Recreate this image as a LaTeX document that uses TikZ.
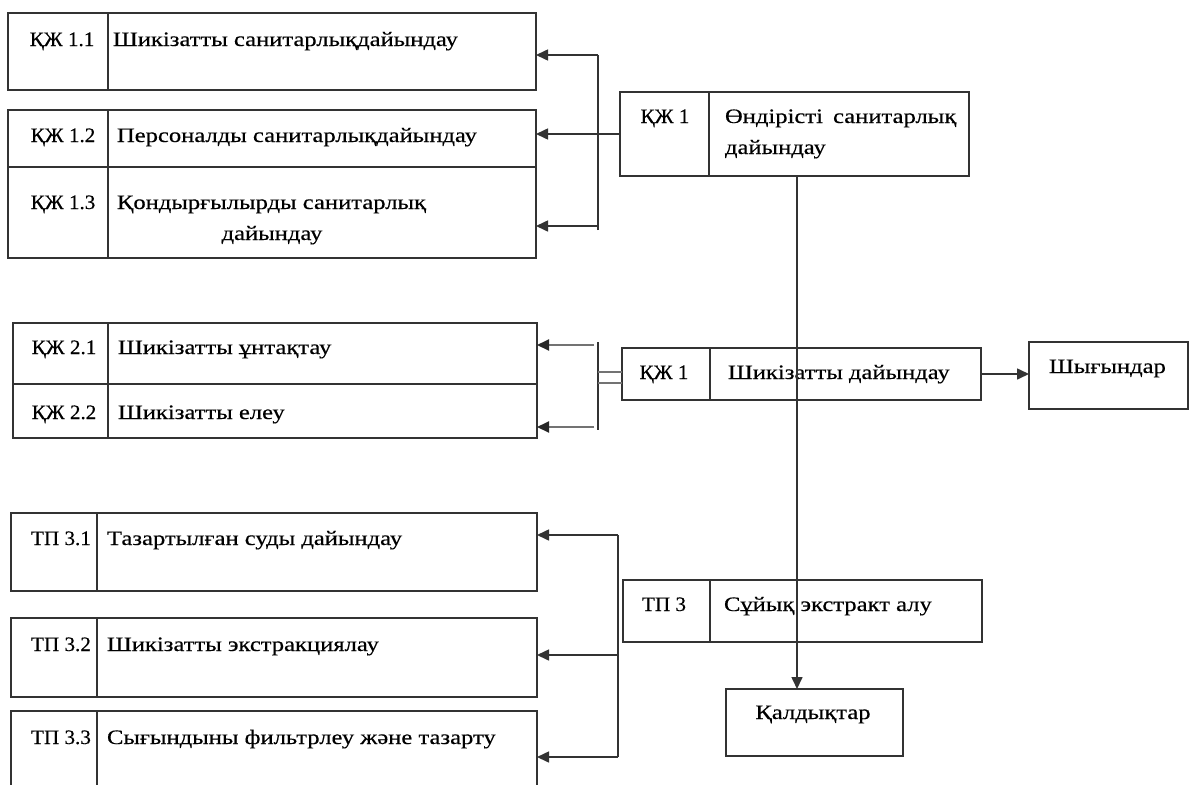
\documentclass[tikz,border=0pt]{standalone}
\usepackage{fontspec}
\setmainfont{Liberation Serif}[FakeStretch=1.2,FakeBold=0.4]
\newfontfamily\idfont{Liberation Serif}[FakeStretch=1.03,FakeBold=0.4]
\usetikzlibrary{arrows.meta,calc}
\begin{document}
\begin{tikzpicture}[x=1pt,y=-1pt,
  every node/.style={inner sep=0pt,outer sep=0pt},
  box/.style={draw=black!80,line width=1.6pt,rectangle},
  ln/.style={draw=black!80,line width=1.6pt},
  gln/.style={draw=black!55,line width=2pt},
  arr/.style={ln,-{Triangle[length=12pt,width=11pt]}},
  garr/.style={gln,-{Triangle[length=12pt,width=11pt,fill=black!85,color=black!85]}},
  txt/.style={anchor=base west,font=\fontsize{20.5}{24}\selectfont},
  idt/.style={anchor=base,font=\idfont\fontsize{20.5}{24}\selectfont},
  ctt/.style={anchor=base,font=\fontsize{20.5}{24}\selectfont}]
\useasboundingbox (0,0) rectangle (1190,784);
\fill[white] (0,0) rectangle (1190,784);
% boxes
\node[box,minimum width=528pt,minimum height=77pt] (b11) at (272,51.5) {};
\node[box,minimum width=528pt,minimum height=148pt] (b123) at (272,184) {};
\node[box,minimum width=349pt,minimum height=84pt] (k1) at (794.5,134) {};
\node[box,minimum width=524pt,minimum height=115pt] (b2) at (275,380.5) {};
\node[box,minimum width=359pt,minimum height=52pt] (k2) at (801.5,374) {};
\node[box,minimum width=159pt,minimum height=67pt] (shy) at (1108.5,375.5) {};
\node[box,minimum width=526pt,minimum height=78pt] (b31) at (274,552) {};
\node[box,minimum width=526pt,minimum height=79pt] (b32) at (274,657.5) {};
\node[box,minimum width=526pt,minimum height=82pt] (b33) at (274,752) {};
\node[box,minimum width=359pt,minimum height=62pt] (t3) at (802.5,611) {};
\node[box,minimum width=177pt,minimum height=67pt] (kal) at (814.5,722.5) {};
% dividers
\draw[ln] (108,0 |- b11.north) -- (108,0 |- b11.south);
\draw[ln] (108,0 |- b123.north) -- (108,0 |- b123.south);
\draw[ln] (b123.west |- 0,167) -- (b123.east |- 0,167);
\draw[ln] (709,0 |- k1.north) -- (709,0 |- k1.south);
\draw[ln] (108,0 |- b2.north) -- (108,0 |- b2.south);
\draw[ln] (b2.west |- 0,384) -- (b2.east |- 0,384);
\draw[ln] (710,0 |- k2.north) -- (710,0 |- k2.south);
\draw[ln] (97,0 |- b31.north) -- (97,0 |- b31.south);
\draw[ln] (97,0 |- b32.north) -- (97,0 |- b32.south);
\draw[ln] (97,0 |- b33.north) -- (97,0 |- b33.south);
\draw[ln] (710,0 |- t3.north) -- (710,0 |- t3.south);
% texts
\node[idt] (l11) at (62,46) {ҚЖ 1.1};
\node[txt] (d11) at (113,46) {Шикізатты санитарлықдайындау};
\node[idt] (l12) at (63,142) {ҚЖ 1.2};
\node[txt] (d12) at (117,142) {Персоналды санитарлықдайындау};
\node[idt] (l13) at (63,209) {ҚЖ 1.3};
\node[txt] (d13) at (117,209) {Қондырғылырды санитарлық};
\node[ctt] (d13b) at (272,240) {дайындау};
\node[idt] (lk1) at (665,123) {ҚЖ 1};
\node[txt] (dk1) at (725,123) {Өндірісті\hspace{4pt} санитарлық};
\node[txt] (dk1b) at (725,154) {дайындау};
\node[idt] (l21) at (64,354) {ҚЖ 2.1};
\node[txt] (d21) at (118,354) {Шикізатты ұнтақтау};
\node[idt] (l22) at (64,419) {ҚЖ 2.2};
\node[txt] (d22) at (118,419) {Шикізатты елеу};
\node[idt] (lk2) at (664,379) {ҚЖ 1};
\node[txt] (dk2) at (728,379) {Шикізатты дайындау};
\node[txt] (dshy) at (1049,373) {Шығындар};
\node[idt] (l31) at (61,545) {ТП 3.1};
\node[txt] (d31) at (107,545) {Тазартылған суды дайындау};
\node[idt] (l32) at (61,651) {ТП 3.2};
\node[txt] (d32) at (107,651) {Шикізатты экстракциялау};
\node[idt] (l33) at (61,744) {ТП 3.3};
\node[txt] (d33) at (107,744) {Сығындыны фильтрлеу және тазарту};
\node[idt] (lt3) at (664,611) {ТП 3};
\node[txt] (dt3) at (724,611) {Сұйық экстракт алу};
\node[ctt] (dkal) at (813,719) {Қалдықтар};
% connectors top
\coordinate (brT) at (598,55);
\coordinate (brB) at (598,230);
\coordinate (br13) at (598,226);
\draw[ln] (brB) -- (brT);
\draw[arr] (brT) -- (brT -| b11.east);
\draw[arr] (br13) -- (br13 -| b123.east);
\draw[arr] (k1.west) -- (k1.west -| b123.east);
% vertical main line
\coordinate (v) at (797,0);
\draw[arr] (k1.south -| v) -- (kal.north -| v);
% middle
\coordinate (m1) at (598,342);
\coordinate (m2) at (598,430);
\draw[ln] (m1) -- (m2);
\coordinate (s1) at (594,345);
\coordinate (s2) at (594,427);
\draw[garr] (s1) -- (s1 -| b2.east);
\draw[garr] (s2) -- (s2 -| b2.east);
\coordinate (q1) at (598,372);
\coordinate (q2) at (598,383);
\draw[gln] (q1) -- (q1 -| k2.west);
\draw[gln] (q2) -- (q2 -| k2.west);
\draw[arr] (k2.east) -- (k2.east -| shy.west);
% bottom
\coordinate (p1) at (618,535);
\coordinate (p2) at (618,655);
\coordinate (p3) at (618,757);
\draw[ln] (p1) -- (p3);
\draw[arr] (p1) -- (p1 -| b31.east);
\draw[arr] (p2) -- (p2 -| b32.east);
\draw[arr] (p3) -- (p3 -| b33.east);
\end{tikzpicture}
\end{document}
